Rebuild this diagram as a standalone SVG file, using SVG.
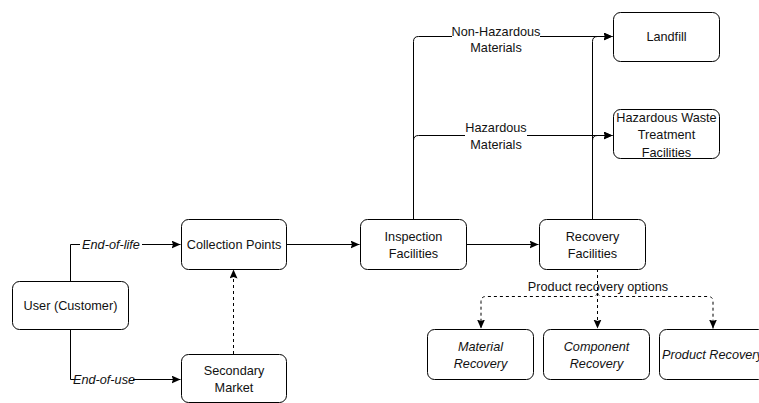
<svg xmlns="http://www.w3.org/2000/svg" width="759" height="403" viewBox="0 0 759 403">
<style>
.box{fill:#fff;stroke:#000;stroke-width:1}
.t{font-family:"Liberation Sans",Arial,sans-serif;font-size:12.7px;fill:#111;text-anchor:middle}
.i{font-style:italic}
.c{fill:none;stroke:#000;stroke-width:1}
.d{stroke-dasharray:3 3}
.bg{fill:#fff}
</style>
<defs>
<marker id="ah" markerUnits="userSpaceOnUse" markerWidth="10" markerHeight="10" refX="9" refY="4" orient="auto">
<path d="M0,0 L9,4 L0,8 L1.5,4 z" fill="#000"/>
</marker>
</defs>
<rect width="759" height="403" fill="#fff"/>
<g id="connectors">
<path class="c" d="M70.5,281 V244.5 H180.5" marker-end="url(#ah)"/>
<path class="c" d="M70.5,329 V379.5 H180.5" marker-end="url(#ah)"/>
<path class="c d" d="M233.5,354 V269.5" marker-end="url(#ah)"/>
<path class="c" d="M286,244.5 H359.5" marker-end="url(#ah)"/>
<path class="c" d="M466,244.5 H538.5" marker-end="url(#ah)"/>
<path class="c" d="M413.5,219 V41.5 Q413.5,36.5 418.5,36.5 H612.5" marker-end="url(#ah)"/>
<path class="c" d="M413.5,219 V140.5 Q413.5,135.5 418.5,135.5 H612.5" marker-end="url(#ah)"/>
<path class="c" d="M592.5,219 V41.5 Q592.5,36.5 597.5,36.5 H612.5" marker-end="url(#ah)"/>
<path class="c" d="M592.5,219 V140.5 Q592.5,135.5 597.5,135.5 H612.5" marker-end="url(#ah)"/>
<path class="c d" d="M597.5,269 V291.5 Q597.5,296.5 592.5,296.5 H486 Q481,296.5 481,301.5 V328.5" marker-end="url(#ah)"/>
<path class="c d" d="M597.5,269 V328.5" marker-end="url(#ah)"/>
<path class="c d" d="M597.5,269 V291.5 Q597.5,296.5 602.5,296.5 H708 Q713,296.5 713,301.5 V328.5" marker-end="url(#ah)"/>
<rect class="bg" x="80" y="237" width="62" height="15"/>
<text class="t i" x="111" y="248.8">End-of-life</text>
<rect class="bg" x="76" y="372" width="57" height="15"/>
<text class="t i" x="104" y="383.8">End-of-use</text>
<rect class="bg" x="452" y="24" width="88" height="31"/>
<text class="t" x="496" y="35.5">Non-Hazardous</text>
<text class="t" x="496" y="52">Materials</text>
<rect class="bg" x="465" y="121" width="62" height="31"/>
<text class="t" x="496" y="132">Hazardous</text>
<text class="t" x="496" y="148.5">Materials</text>
<text class="t" x="598" y="291">Product recovery options</text>
</g>
<g id="user">
<rect class="box" x="12.5" y="281.5" width="116" height="48" rx="7"/>
<text class="t" x="70.5" y="310">User (Customer)</text>
</g>
<g id="collection">
<rect class="box" x="181.5" y="219.5" width="105" height="50" rx="7"/>
<text class="t" x="234" y="249">Collection Points</text>
</g>
<g id="secondary">
<rect class="box" x="181.5" y="354.5" width="105" height="48" rx="7"/>
<text class="t" x="234" y="374.5">Secondary</text>
<text class="t" x="234" y="391.5">Market</text>
</g>
<g id="inspection">
<rect class="box" x="360.5" y="219.5" width="106" height="50" rx="7"/>
<text class="t" x="413.5" y="240.5">Inspection</text>
<text class="t" x="413.5" y="257.5">Facilities</text>
</g>
<g id="recovery">
<rect class="box" x="539.5" y="219.5" width="106" height="50" rx="7"/>
<text class="t" x="592.5" y="240.5">Recovery</text>
<text class="t" x="592.5" y="257.5">Facilities</text>
</g>
<g id="landfill">
<rect class="box" x="613.5" y="12.5" width="106" height="49" rx="7"/>
<text class="t" x="666.5" y="41">Landfill</text>
</g>
<g id="hazardous">
<rect class="box" x="613.5" y="109.5" width="106" height="49" rx="7"/>
<text class="t" x="666.5" y="121.5">Hazardous Waste</text>
<text class="t" x="666.5" y="139">Treatment</text>
<text class="t" x="666.5" y="156.5">Facilities</text>
</g>
<g id="material">
<rect class="box" x="427.5" y="329.5" width="106" height="50" rx="7"/>
<text class="t i" x="480.5" y="350.5">Material</text>
<text class="t i" x="480.5" y="367.5">Recovery</text>
</g>
<g id="component">
<rect class="box" x="543.5" y="329.5" width="106" height="50" rx="7"/>
<text class="t i" x="596.5" y="350.5">Component</text>
<text class="t i" x="596.5" y="367.5">Recovery</text>
</g>
<g id="product">
<rect class="box" x="659.5" y="329.5" width="106" height="50" rx="7"/>
<text class="t i" x="712.5" y="359">Product Recovery</text>
</g>
</svg>
